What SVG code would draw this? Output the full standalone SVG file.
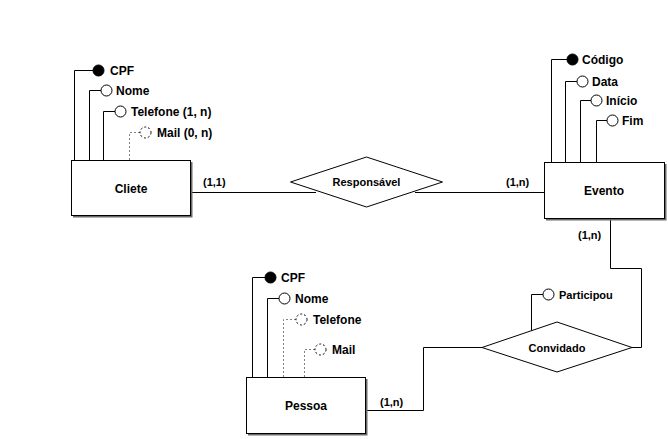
<svg xmlns="http://www.w3.org/2000/svg" width="668" height="439" viewBox="0 0 668 439">
  <style>
    text { font-family: "Liberation Sans", Arial, sans-serif; font-weight: bold; font-size: 11px; fill: #000; }
    .ent text { font-size: 12px; text-anchor: middle; }
    .rel text { text-anchor: middle; }
    .box { fill: #fff; stroke: #000; stroke-width: 1; }
    .shadow { fill: #6a6a6a; }
    .line { fill: none; stroke: #000; stroke-width: 1; }
    .opt { fill: none; stroke: #808080; stroke-width: 1; stroke-dasharray: 2 2; }
    .key { fill: #000; stroke: #000; stroke-width: 1; }
    .att { fill: #fff; stroke: #000; stroke-width: 1; }
    .attopt { fill: #fff; stroke: #000; stroke-width: 1; stroke-dasharray: 2 2; }
  </style>
  <rect width="668" height="439" fill="#fff"/>

  <!-- connectors -->
  <g id="connectors">
    <polyline class="line" points="190.5,192.5 316,192.5"/>
    <polyline class="line" points="415,192.5 544.5,192.5"/>
    <polyline class="line" points="610.5,218 610.5,268.5 641.5,268.5 641.5,347.5 632,347.5"/>
    <polyline class="line" points="366,410.5 423.5,410.5 423.5,347.5 482,347.5"/>
    <text x="203" y="186">(1,1)</text>
    <text x="506" y="186">(1,n)</text>
    <text x="578" y="239">(1,n)</text>
    <text x="380" y="406">(1,n)</text>
  </g>

  <!-- Cliete -->
  <g id="cliete" class="ent">
    <polyline class="line" points="74.5,160 74.5,70.5 93,70.5"/>
    <circle class="key" cx="98.5" cy="70.5" r="5.5"/>
    <text x="110" y="74.5" style="text-anchor:start">CPF</text>
    <polyline class="line" points="89.5,160 89.5,90.5 101,90.5"/>
    <circle class="att" cx="106.5" cy="90.5" r="5.5"/>
    <text x="116" y="94.5" style="text-anchor:start">Nome</text>
    <polyline class="line" points="103.5,160 103.5,111.5 115,111.5"/>
    <circle class="att" cx="120.5" cy="111.5" r="5.5"/>
    <text x="131" y="115.5" style="text-anchor:start">Telefone (1, n)</text>
    <polyline class="opt" points="129.5,160 129.5,132.5 140,132.5"/>
    <circle class="attopt" cx="145.5" cy="132.5" r="5.5"/>
    <text x="157" y="136.5" style="text-anchor:start">Mail (0, n)</text>
    <rect class="shadow" x="73" y="162" width="119.5" height="55.5"/>
    <rect class="box" x="71.5" y="160.5" width="119" height="55"/>
    <text x="131" y="192.5">Cliete</text>
  </g>

  <!-- Evento -->
  <g id="evento" class="ent">
    <polyline class="line" points="551.5,162 551.5,59.5 567,59.5"/>
    <circle class="key" cx="572.5" cy="59.5" r="5.5"/>
    <text x="582" y="63.5" style="text-anchor:start">Código</text>
    <polyline class="line" points="565.5,162 565.5,81.5 577,81.5"/>
    <circle class="att" cx="582.5" cy="81.5" r="5.5"/>
    <text x="592" y="85.5" style="text-anchor:start">Data</text>
    <polyline class="line" points="580.5,162 580.5,100.5 591,100.5"/>
    <circle class="att" cx="596.5" cy="100.5" r="5.5"/>
    <text x="606" y="104.5" style="text-anchor:start">Início</text>
    <polyline class="line" points="596.5,162 596.5,120.5 607,120.5"/>
    <circle class="att" cx="612.5" cy="120.5" r="5.5"/>
    <text x="622" y="124.5" style="text-anchor:start">Fim</text>
    <rect class="shadow" x="546" y="164" width="120.5" height="56.5"/>
    <rect class="box" x="544.5" y="162.5" width="120" height="56"/>
    <text x="604" y="195">Evento</text>
  </g>

  <!-- Pessoa -->
  <g id="pessoa" class="ent">
    <polyline class="line" points="252.5,377 252.5,277.5 265,277.5"/>
    <circle class="key" cx="270.5" cy="277.5" r="5.5"/>
    <text x="281" y="281.5" style="text-anchor:start">CPF</text>
    <polyline class="line" points="267.5,377 267.5,298.5 279,298.5"/>
    <circle class="att" cx="284.5" cy="298.5" r="5.5"/>
    <text x="295" y="302.5" style="text-anchor:start">Nome</text>
    <polyline class="opt" points="283.5,377 283.5,319.5 296,319.5"/>
    <circle class="attopt" cx="301.5" cy="319.5" r="5.5"/>
    <text x="313" y="323.5" style="text-anchor:start">Telefone</text>
    <polyline class="opt" points="304.5,377 304.5,349.5 315,349.5"/>
    <circle class="attopt" cx="320.5" cy="349.5" r="5.5"/>
    <text x="332" y="353.5" style="text-anchor:start">Mail</text>
    <rect class="shadow" x="248" y="379" width="119.5" height="56.5"/>
    <rect class="box" x="246.5" y="377.5" width="119" height="56"/>
    <text x="306" y="410">Pessoa</text>
  </g>

  <!-- Responsável -->
  <g id="responsavel" class="rel">
    <polygon class="box" points="290.5,182 366.5,157 442.5,182 366.5,207"/>
    <text x="366.5" y="186">Responsável</text>
  </g>

  <!-- Convidado -->
  <g id="convidado" class="rel">
    <polyline class="line" points="531.5,331 531.5,294.5 543,294.5"/>
    <circle class="att" cx="548.5" cy="294.5" r="5.5"/>
    <text x="559" y="298.5" style="text-anchor:start">Participou</text>
    <polygon class="box" points="482,347.5 557,322 632,347.5 557,372"/>
    <text x="557" y="351.5">Convidado</text>
  </g>
</svg>
